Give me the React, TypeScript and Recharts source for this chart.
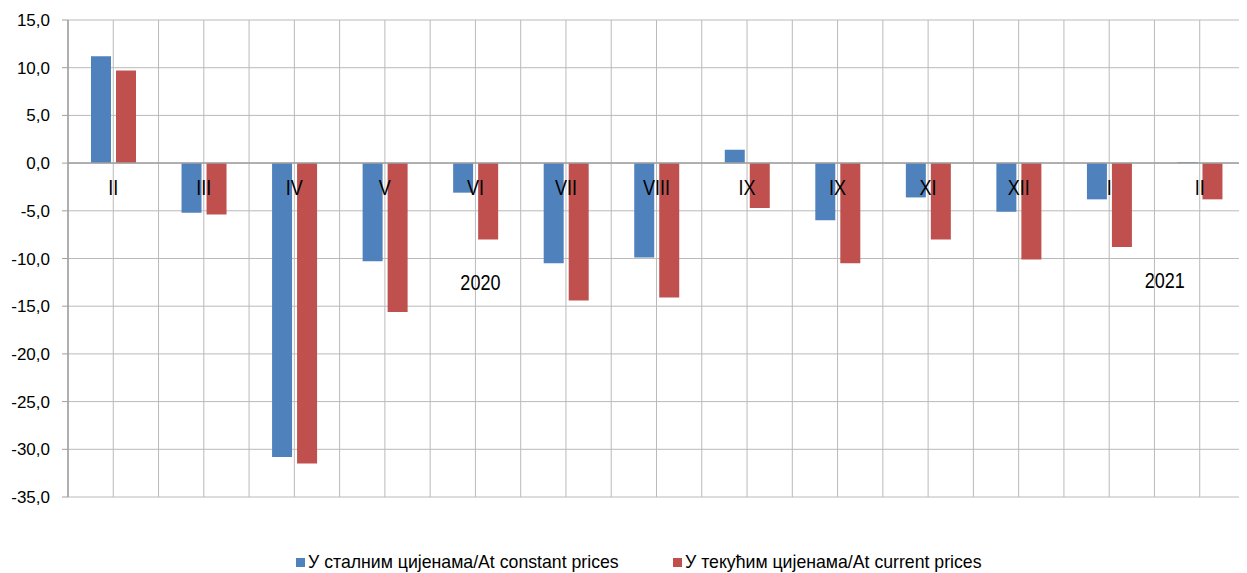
import React from 'react';
import {
  BarChart,
  Bar,
  XAxis,
  YAxis,
  CartesianGrid,
  Legend,
  ReferenceLine,
  ReferenceDot,
} from 'recharts';

// ---- data ----
const categoryKeys = [
  '2020-02', '2020-03', '2020-04', '2020-05', '2020-06', '2020-07', '2020-08',
  '2020-09', '2020-10', '2020-11', '2020-12', '2021-01', '2021-02',
];
const categoryLabels = ['II', 'III', 'IV', 'V', 'VI', 'VII', 'VIII', 'IX', 'IX', 'XI', 'XII', 'I', 'II'];
const constantPrices = [11.2, -5.2, -30.8, -10.3, -3.1, -10.5, -9.9, 1.4, -6.0, -3.6, -5.1, -3.8, 0.1];
const currentPrices = [9.7, -5.4, -31.5, -15.6, -8.0, -14.4, -14.1, -4.7, -10.5, -8.0, -10.1, -8.8, -3.8];
const yTicks = [-35, -30, -25, -20, -15, -10, -5, 0, 5, 10, 15];
const seriesNames = ['У сталним цијенама/At constant prices', 'У текућим цијенама/At current prices'];
const yearLabels = [
  { text: '2020', key: '2020-06', y: -13.3, dx: 5 },
  { text: '2021', key: '2021-02', y: -13.1, dx: -35 },
];

const data = categoryKeys.map((k, i) => ({
  key: k,
  label: categoryLabels[i],
  constant: constantPrices[i],
  current: currentPrices[i],
}));

const BLUE = '#4f81bd';
const RED = '#c0504d';
const GRID = '#bababa';
const AXIS = '#a0a0a0';
const SANS = "'Liberation Sans', Arial, sans-serif";

const fmt = (v: number) => v.toFixed(1).replace('.', ',');

const center = (props: any) => {
  const vb = props.viewBox || {};
  return {
    cx: (vb.x ?? 0) + (vb.width ?? 0) / 2,
    cy: (vb.y ?? 0) + (vb.height ?? 0) / 2,
  };
};

const makeTextLabel = (text: string, dx: number, dy: number) => (props: any) => {
  const { cx, cy } = center(props);
  return (
    <text
      x={0}
      y={0}
      transform={`translate(${cx + dx},${cy + dy}) scale(0.82,1)`}
      textAnchor="middle"
      fontFamily={SANS}
      fontSize={22}
      fill="#000"
    >
      {text}
    </text>
  );
};

const LegendContent = (props: any) => {
  const payload = props.payload || [];
  return (
    <div
      style={{
        display: 'flex',
        alignItems: 'center',
        paddingLeft: 288,
        height: 20,
        fontFamily: SANS,
        fontSize: 17.7,
        lineHeight: '20px',
        color: '#000',
      }}
    >
      {payload.map((p: any, i: number) => (
        <div
          key={i}
          style={{
            display: 'flex',
            alignItems: 'center',
            width: i === 0 ? 377 : 'auto',
            whiteSpace: 'nowrap',
          }}
        >
          <span
            style={{
              display: 'inline-block',
              width: 9,
              height: 9,
              background: p.color,
              marginRight: 3,
            }}
          />
          <span>{p.value}</span>
        </div>
      ))}
    </div>
  );
};

const verticalLines = ({ offset, width }: any) => {
  const left = offset.left;
  const w = offset.width ?? width - offset.left - offset.right;
  const n = categoryKeys.length * 2;
  const out: number[] = [];
  for (let i = 0; i <= n; i++) out.push(left + (i * w) / n);
  return out;
};

export default function App() {
  return (
    <BarChart
      width={1239}
      height={565}
      data={data}
      margin={{ top: 12, right: 2, left: 0, bottom: 56 }}
      barSize={20}
      barGap={5}
    >
      <CartesianGrid
        stroke={GRID}
        strokeWidth={1}
        verticalCoordinatesGenerator={verticalLines}
      />
      <XAxis dataKey="key" hide />
      <YAxis
        width={60}
        domain={[-35, 15]}
        ticks={yTicks}
        interval={0}
        tickFormatter={fmt}
        axisLine={{ stroke: AXIS, strokeWidth: 1.5 }}
        tickLine={{ stroke: AXIS }}
        tickSize={6}
        tickMargin={12}
        tick={{ fill: '#000', fontSize: 17, fontFamily: SANS }}
      />
      <Legend verticalAlign="bottom" content={LegendContent} wrapperStyle={{ bottom: 1 }} />
      <Bar dataKey="constant" name={seriesNames[0]} fill={BLUE} isAnimationActive={false} />
      <Bar dataKey="current" name={seriesNames[1]} fill={RED} isAnimationActive={false} />
      <ReferenceLine y={0} stroke={AXIS} strokeWidth={1.5} />
      {data.map((d) => (
        <ReferenceDot
          key={'lbl-' + d.key}
          x={d.key}
          y={0}
          r={0}
          fill="none"
          stroke="none"
          label={{ content: makeTextLabel(d.label, 0, 32) }}
        />
      ))}
      {yearLabels.map((yl) => (
        <ReferenceDot
          key={'yr-' + yl.text}
          x={yl.key}
          y={yl.y}
          r={0}
          fill="none"
          stroke="none"
          label={{ content: makeTextLabel(yl.text, yl.dx, 0) }}
        />
      ))}
    </BarChart>
  );
}
